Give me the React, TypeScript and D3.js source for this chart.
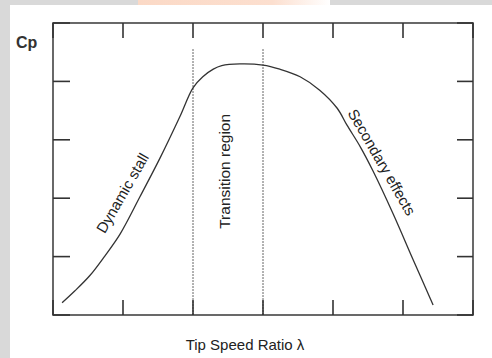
import React from "react";
import * as d3 from "d3";

// Tip speed ratio (x) and power coefficient (y), in axis units
const lambdaValues = [0.13, 0.31, 0.53, 0.74, 0.96, 1.24, 1.53, 1.81, 2.0, 2.14, 2.29, 2.41, 2.67, 3.0, 3.24, 3.53, 3.81, 4.06, 4.2, 4.39, 4.57, 4.86, 5.14, 5.43];
const cpValues = [0.21, 0.41, 0.68, 1.01, 1.39, 2.02, 2.69, 3.39, 3.89, 4.08, 4.21, 4.27, 4.3, 4.28, 4.21, 4.08, 3.85, 3.54, 3.25, 2.88, 2.47, 1.73, 0.96, 0.17];
const xTicks = [0, 1, 2, 3, 4, 5, 6];
const yTicks = [0, 1, 2, 3, 4, 5];
const regionBounds = [2, 3];
const regionTop = 4.55;
const labels = [
  { text: "Dynamic stall", x: 0.99, y: 2.09, angle: -60, size: 15 },
  { text: "Transition region", x: 2.45, y: 2.46, angle: -90, size: 15.5 },
  { text: "Secondary effects", x: 4.7, y: 2.62, angle: 60, size: 15 },
];
const yTitle = "Cp";
const xTitle = "Tip Speed Ratio \u03bb";

const W = 492;
const H = 358;
const FONT = "'Liberation Sans', Arial, Helvetica, sans-serif";

export default function App() {
  const x = d3.scaleLinear().domain([0, 6]).range([53, 473]);
  const y = d3.scaleLinear().domain([0, 5]).range([315, 23]);
  const line = d3
    .line<number>()
    .x((_, i) => x(lambdaValues[i]))
    .y((d) => y(d))
    .curve(d3.curveCatmullRom.alpha(0.5));
  const tickLen = 15;
  const frameColor = "#444";

  return (
    <div style={{ position: "fixed", left: 0, top: 0, width: W, height: H }}>
      <svg width={W} height={H} style={{ display: "block" }}>
        <defs>
          <linearGradient id="wm" x1="0" x2="1" y1="0" y2="0">
            <stop offset="0" stopColor="#fbd9c6" />
            <stop offset="0.7" stopColor="#fcdfcf" />
            <stop offset="1" stopColor="#ffffff" />
          </linearGradient>
        </defs>
        <rect x={0} y={0} width={W} height={H} fill="#d9d9d9" />
        <rect x={10} y={5} width={W - 10} height={H - 5} fill="#ffffff" />
        <rect x={138} y={0} width={192} height={5} fill="url(#wm)" />

        {/* frame */}
        <rect
          x={x(0)}
          y={y(5)}
          width={x(6) - x(0)}
          height={y(0) - y(5)}
          fill="none"
          stroke={frameColor}
          strokeWidth={1.6}
        />
        {/* x ticks, top and bottom */}
        {xTicks.map((t) => (
          <g key={"xt" + t}>
            <line x1={x(t)} x2={x(t)} y1={y(0)} y2={y(0) - tickLen} stroke="#333" strokeWidth={1.6} />
            <line x1={x(t)} x2={x(t)} y1={y(5)} y2={y(5) + tickLen} stroke="#333" strokeWidth={1.6} />
          </g>
        ))}
        {/* y ticks, left and right */}
        {yTicks.map((t) => (
          <g key={"yt" + t}>
            <line x1={x(0)} x2={x(0) + 17} y1={y(t)} y2={y(t)} stroke="#333" strokeWidth={1.6} />
            <line x1={x(6)} x2={x(6) - 16} y1={y(t)} y2={y(t)} stroke="#333" strokeWidth={1.6} />
          </g>
        ))}

        {/* region bounds */}
        {regionBounds.map((b) => (
          <line
            key={"rb" + b}
            x1={x(b)}
            x2={x(b)}
            y1={y(regionTop)}
            y2={y(0)}
            stroke="#333"
            strokeWidth={1}
            strokeDasharray="1.5,1.5"
          />
        ))}

        {/* curve */}
        <path d={line(cpValues) || ""} fill="none" stroke="#333" strokeWidth={1.3} />

        {/* annotations */}
        {labels.map((l) => (
          <text
            key={l.text}
            transform={`translate(${x(l.x)},${y(l.y)}) rotate(${l.angle})`}
            textAnchor="middle"
            dominantBaseline="central"
            fontFamily={FONT}
            fontSize={l.size}
            fill="#222"
          >
            {l.text}
          </text>
        ))}

        <text x={16} y={48} fontFamily={FONT} fontSize={16} fontWeight="bold" fill="#333">
          {yTitle}
        </text>
        <text x={245} y={350} textAnchor="middle" fontFamily={FONT} fontSize={15} fill="#222">
          {xTitle}
        </text>
      </svg>
    </div>
  );
}
